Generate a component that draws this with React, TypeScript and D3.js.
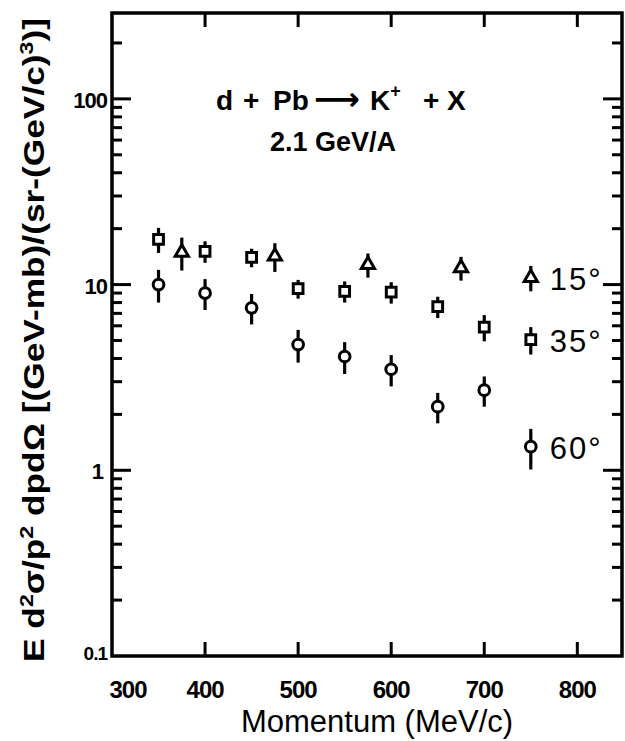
import { useRef, useEffect } from 'react';
import * as d3 from 'd3';

const W = 625;
const H = 741;

// d + Pb -> K+ + X, 2.1 GeV/A ; invariant cross section vs momentum
const momentum15 = [375, 475, 575, 675];
const value15 = [14.9, 14.2, 12.8, 12.3];
const error15 = [3.0, 2.5, 1.9, 1.8];

const momentum35 = [350, 400, 450, 500, 550, 600, 650, 700];
const value35 = [17.5, 15.1, 14.0, 9.5, 9.2, 9.1, 7.6, 5.9];
const error35 = [2.7, 2.0, 1.6, 1.1, 1.2, 1.2, 1.0, 0.95];

const momentum60 = [350, 400, 450, 500, 550, 600, 650, 700];
const value60 = [10.0, 9.0, 7.5, 4.75, 4.1, 3.5, 2.2, 2.7];
const error60 = [2.0, 1.7, 1.4, 0.95, 0.8, 0.67, 0.41, 0.5];

// key symbols are drawn inside the frame at p = 750
const legendLabels = ['15°', '35°', '60°'];
const legendMomentum = 750;
const legendValue = [10.9, 5.05, 1.34];
const legendError = [1.7, 0.85, 0.33];

const xTicks = [300, 400, 500, 600, 700, 800];
const yTicks = [0.1, 1, 10, 100];
const yTickLabels = ['0.1', '1', '10', '100'];

const FRAME = { left: 112, right: 622, top: 13, bottom: 656 };

export default function App() {
  const svgRef = useRef<SVGSVGElement>(null);

  useEffect(() => {
    const svg = d3.select(svgRef.current);
    svg.selectAll('*').remove();

    const x = d3.scaleLinear().domain([300, 848]).range([FRAME.left, FRAME.right]);
    const y = d3.scaleLog().domain([0.1, 290]).range([FRAME.bottom, FRAME.top]);

    const ink = '#000';
    const g = svg.append('g');

    // frame
    g.append('rect')
      .attr('x', FRAME.left).attr('y', FRAME.top)
      .attr('width', FRAME.right - FRAME.left).attr('height', FRAME.bottom - FRAME.top)
      .attr('fill', 'none').attr('stroke', ink).attr('stroke-width', 3.5);

    // x ticks, bottom and top, pointing in
    xTicks.slice(1).forEach(t => {
      g.append('line').attr('x1', x(t)).attr('x2', x(t))
        .attr('y1', FRAME.bottom).attr('y2', FRAME.bottom - 14)
        .attr('stroke', ink).attr('stroke-width', 3);
      g.append('line').attr('x1', x(t)).attr('x2', x(t))
        .attr('y1', FRAME.top).attr('y2', FRAME.top + 14)
        .attr('stroke', ink).attr('stroke-width', 3);
    });

    // log y ticks on both sides
    const minors: number[] = [];
    [0.1, 1, 10, 100].forEach(dec => {
      for (let k = 2; k <= 9; k++) {
        const v = dec * k;
        if (v <= 290) minors.push(v);
      }
    });
    [[FRAME.left, 1], [FRAME.right, -1]].forEach(([x0, dir]) => {
      yTicks.slice(1).forEach(t => {
        g.append('line').attr('x1', x0).attr('x2', x0 + dir * 19)
          .attr('y1', y(t)).attr('y2', y(t))
          .attr('stroke', ink).attr('stroke-width', 3);
      });
      minors.forEach(t => {
        g.append('line').attr('x1', x0).attr('x2', x0 + dir * 10)
          .attr('y1', y(t)).attr('y2', y(t))
          .attr('stroke', ink).attr('stroke-width', 3);
      });
    });

    // tick labels
    const labelFont = '"Liberation Sans", Arial, sans-serif';
    xTicks.forEach((t, i) => {
      g.append('text')
        .attr('x', x(t) + (i === 0 ? 16 : 0)).attr('y', 698)
        .attr('text-anchor', 'middle')
        .attr('font-family', labelFont).attr('font-weight', 'bold')
        .attr('font-size', 24).attr('letter-spacing', -1)
        .attr('fill', ink).text(String(t));
    });
    yTicks.forEach((t, i) => {
      g.append('text')
        .attr('x', i === 1 ? 103 : 107).attr('y', y(t) + (i === 0 ? 4 : 9))
        .attr('text-anchor', 'end')
        .attr('font-family', labelFont).attr('font-weight', 'bold')
        .attr('font-size', i === 0 ? 19 : 22).attr('letter-spacing', -1)
        .attr('fill', ink).text(yTickLabels[i]);
    });

    // axis titles
    g.append('text')
      .attr('x', 377).attr('y', 732).attr('text-anchor', 'middle')
      .attr('font-family', labelFont).attr('font-size', 31)
      .attr('fill', ink).text('Momentum (MeV/c)');

    const yl = g.append('text')
      .attr('transform', 'translate(44,662) rotate(-90)')
      .attr('font-family', labelFont).attr('font-weight', 'bold')
      .attr('font-size', 29).attr('fill', ink)
      .attr('textLength', 644).attr('lengthAdjust', 'spacingAndGlyphs');
    yl.append('tspan').text('E d');
    yl.append('tspan').attr('dy', -11).attr('font-size', 19).text('2');
    yl.append('tspan').attr('dy', 11).text('σ/p');
    yl.append('tspan').attr('dy', -11).attr('font-size', 19).text('2');
    yl.append('tspan').attr('dy', 11).text(' dpdΩ [(GeV-mb)/(sr-(GeV/c)');
    yl.append('tspan').attr('dy', -11).attr('font-size', 19).text('3');
    yl.append('tspan').attr('dy', 11).text(')]');

    // reaction annotation
    const t1 = g.append('text')
      .attr('y', 110)
      .attr('font-family', labelFont).attr('font-weight', 'bold')
      .attr('font-size', 28).attr('fill', ink);
    t1.append('tspan').attr('x', 216).text('d');
    t1.append('tspan').attr('x', 243).text('+');
    t1.append('tspan').attr('x', 273).text('Pb');
    t1.append('tspan').attr('x', 314).attr('font-family', '"DejaVu Sans", sans-serif')
      .attr('font-size', 32).text('⟶');
    t1.append('tspan').attr('x', 370).text('K');
    t1.append('tspan').attr('dy', -13).attr('font-size', 18).text('+');
    t1.append('tspan').attr('x', 423).attr('dy', 13).text('+');
    t1.append('tspan').attr('x', 447).text('X');

    g.append('text')
      .attr('x', 333).attr('y', 151).attr('text-anchor', 'middle')
      .attr('font-family', labelFont).attr('font-weight', 'bold')
      .attr('font-size', 27).attr('fill', ink).text('2.1 GeV/A');

    // data points with error bars
    const shapes = [d3.symbolTriangle, d3.symbolSquare, d3.symbolCircle];
    const sizes = [75, 95, 90];
    const series = [
      { p: momentum15, v: value15, e: error15 },
      { p: momentum35, v: value35, e: error35 },
      { p: momentum60, v: value60, e: error60 },
    ];

    const drawPoint = (p: number, v: number, e: number, s: number) => {
      g.append('line')
        .attr('x1', x(p)).attr('x2', x(p))
        .attr('y1', y(v + e)).attr('y2', y(v - e))
        .attr('stroke', ink).attr('stroke-width', 3.2);
      g.append('path')
        .attr('transform', `translate(${x(p)},${y(v)})`)
        .attr('d', d3.symbol().type(shapes[s]).size(sizes[s])())
        .attr('fill', '#fff').attr('stroke', ink).attr('stroke-width', 3);
    };

    series.forEach((sr, s) => {
      sr.p.forEach((p, i) => drawPoint(p, sr.v[i], sr.e[i], s));
    });

    // key
    legendLabels.forEach((lab, s) => {
      drawPoint(legendMomentum, legendValue[s], legendError[s], s);
      g.append('text')
        .attr('x', x(legendMomentum) + 19).attr('y', y(legendValue[s]) + 12)
        .attr('font-family', labelFont).attr('font-size', 31)
        .attr('letter-spacing', 2).attr('fill', ink).text(lab);
    });
  }, []);

  return (
    <svg
      ref={svgRef}
      width={W}
      height={H}
      style={{ position: 'absolute', left: 0, top: 0, background: '#fff' }}
    />
  );
}
